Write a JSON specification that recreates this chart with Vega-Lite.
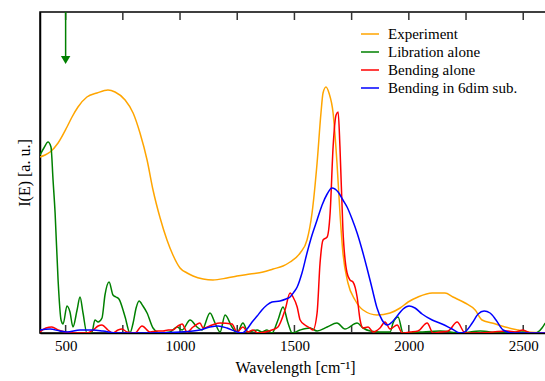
{
  "$schema": "https://vega.github.io/schema/vega-lite/v6.json",
  "width": 510,
  "height": 321,
  "autosize": {"type": "none"},
  "padding": {"left": 40, "top": 12, "right": 0, "bottom": 48},
  "config": {
    "view": {"stroke": "black", "strokeWidth": 1.5},
    "font": "Liberation Serif",
    "axis": {"labelFont": "Liberation Serif", "titleFont": "Liberation Serif", "titleFontWeight": "normal", "domainColor": "black", "domainWidth": 1.5, "grid": false}
  },
  "datasets": {
    "spectra": [
      {"s":"Experiment","w":388,"i":176},{"s":"Experiment","w":410,"i":178},{"s":"Experiment","w":432,"i":181},{"s":"Experiment","w":467,"i":190},{"s":"Experiment","w":506,"i":206},{"s":"Experiment","w":528,"i":216},{"s":"Experiment","w":554,"i":226},{"s":"Experiment","w":593,"i":236},{"s":"Experiment","w":637,"i":240},{"s":"Experiment","w":685,"i":243},{"s":"Experiment","w":716,"i":241},{"s":"Experiment","w":760,"i":233},{"s":"Experiment","w":795,"i":220},{"s":"Experiment","w":825,"i":200},{"s":"Experiment","w":856,"i":173},{"s":"Experiment","w":882,"i":143},{"s":"Experiment","w":913,"i":115},{"s":"Experiment","w":943,"i":93},{"s":"Experiment","w":969,"i":78},{"s":"Experiment","w":1000,"i":65},{"s":"Experiment","w":1031,"i":60},{"s":"Experiment","w":1057,"i":57},{"s":"Experiment","w":1101,"i":54},{"s":"Experiment","w":1144,"i":53},{"s":"Experiment","w":1205,"i":55},{"s":"Experiment","w":1249,"i":57},{"s":"Experiment","w":1306,"i":59},{"s":"Experiment","w":1363,"i":61},{"s":"Experiment","w":1407,"i":64},{"s":"Experiment","w":1450,"i":67},{"s":"Experiment","w":1481,"i":71},{"s":"Experiment","w":1525,"i":80},{"s":"Experiment","w":1555,"i":93},{"s":"Experiment","w":1577,"i":120},{"s":"Experiment","w":1599,"i":170},{"s":"Experiment","w":1616,"i":220},{"s":"Experiment","w":1625,"i":240},{"s":"Experiment","w":1638,"i":246},{"s":"Experiment","w":1651,"i":240},{"s":"Experiment","w":1669,"i":220},{"s":"Experiment","w":1686,"i":170},{"s":"Experiment","w":1699,"i":120},{"s":"Experiment","w":1712,"i":80},{"s":"Experiment","w":1734,"i":50},{"s":"Experiment","w":1765,"i":33},{"s":"Experiment","w":1800,"i":23},{"s":"Experiment","w":1861,"i":18},{"s":"Experiment","w":1918,"i":20},{"s":"Experiment","w":1962,"i":25},{"s":"Experiment","w":1997,"i":31},{"s":"Experiment","w":2040,"i":36},{"s":"Experiment","w":2102,"i":40},{"s":"Experiment","w":2158,"i":40},{"s":"Experiment","w":2193,"i":36},{"s":"Experiment","w":2246,"i":30},{"s":"Experiment","w":2290,"i":23},{"s":"Experiment","w":2320,"i":13},{"s":"Experiment","w":2364,"i":10},{"s":"Experiment","w":2421,"i":6},{"s":"Experiment","w":2478,"i":3},{"s":"Experiment","w":2521,"i":1},{"s":"Experiment","w":2596,"i":0},
      {"s":"Libration alone","w":388,"i":178},{"s":"Libration alone","w":405,"i":185},{"s":"Libration alone","w":423,"i":191},{"s":"Libration alone","w":436,"i":186},{"s":"Libration alone","w":445,"i":153},{"s":"Libration alone","w":454,"i":120},{"s":"Libration alone","w":467,"i":53},{"s":"Libration alone","w":480,"i":13},{"s":"Libration alone","w":489,"i":9},{"s":"Libration alone","w":506,"i":27},{"s":"Libration alone","w":519,"i":21},{"s":"Libration alone","w":532,"i":6},{"s":"Libration alone","w":550,"i":23},{"s":"Libration alone","w":563,"i":36},{"s":"Libration alone","w":576,"i":20},{"s":"Libration alone","w":593,"i":0},{"s":"Libration alone","w":615,"i":1},{"s":"Libration alone","w":628,"i":13},{"s":"Libration alone","w":642,"i":11},{"s":"Libration alone","w":659,"i":15},{"s":"Libration alone","w":672,"i":38},{"s":"Libration alone","w":690,"i":51},{"s":"Libration alone","w":707,"i":38},{"s":"Libration alone","w":720,"i":36},{"s":"Libration alone","w":733,"i":34},{"s":"Libration alone","w":760,"i":16},{"s":"Libration alone","w":781,"i":0},{"s":"Libration alone","w":795,"i":10},{"s":"Libration alone","w":808,"i":25},{"s":"Libration alone","w":821,"i":32},{"s":"Libration alone","w":838,"i":27},{"s":"Libration alone","w":856,"i":20},{"s":"Libration alone","w":882,"i":5},{"s":"Libration alone","w":913,"i":0},{"s":"Libration alone","w":956,"i":1},{"s":"Libration alone","w":987,"i":6},{"s":"Libration alone","w":1009,"i":3},{"s":"Libration alone","w":1044,"i":13},{"s":"Libration alone","w":1074,"i":6},{"s":"Libration alone","w":1096,"i":3},{"s":"Libration alone","w":1131,"i":20},{"s":"Libration alone","w":1153,"i":10},{"s":"Libration alone","w":1175,"i":1},{"s":"Libration alone","w":1197,"i":18},{"s":"Libration alone","w":1227,"i":6},{"s":"Libration alone","w":1249,"i":0},{"s":"Libration alone","w":1275,"i":10},{"s":"Libration alone","w":1297,"i":1},{"s":"Libration alone","w":1337,"i":3},{"s":"Libration alone","w":1358,"i":1},{"s":"Libration alone","w":1380,"i":3},{"s":"Libration alone","w":1402,"i":0},{"s":"Libration alone","w":1428,"i":13},{"s":"Libration alone","w":1450,"i":26},{"s":"Libration alone","w":1472,"i":10},{"s":"Libration alone","w":1490,"i":0},{"s":"Libration alone","w":1525,"i":3},{"s":"Libration alone","w":1568,"i":5},{"s":"Libration alone","w":1599,"i":2},{"s":"Libration alone","w":1643,"i":6},{"s":"Libration alone","w":1686,"i":10},{"s":"Libration alone","w":1721,"i":4},{"s":"Libration alone","w":1774,"i":10},{"s":"Libration alone","w":1800,"i":5},{"s":"Libration alone","w":1831,"i":2},{"s":"Libration alone","w":1874,"i":1},{"s":"Libration alone","w":1918,"i":1},{"s":"Libration alone","w":1931,"i":10},{"s":"Libration alone","w":1953,"i":16},{"s":"Libration alone","w":1975,"i":0},{"s":"Libration alone","w":2049,"i":1},{"s":"Libration alone","w":2137,"i":2},{"s":"Libration alone","w":2224,"i":0},{"s":"Libration alone","w":2312,"i":2},{"s":"Libration alone","w":2399,"i":0},{"s":"Libration alone","w":2486,"i":1},{"s":"Libration alone","w":2552,"i":0},{"s":"Libration alone","w":2582,"i":5},{"s":"Libration alone","w":2596,"i":10},
      {"s":"Bending alone","w":388,"i":1},{"s":"Bending alone","w":414,"i":5},{"s":"Bending alone","w":440,"i":6},{"s":"Bending alone","w":467,"i":3},{"s":"Bending alone","w":497,"i":1},{"s":"Bending alone","w":532,"i":0},{"s":"Bending alone","w":593,"i":0},{"s":"Bending alone","w":620,"i":3},{"s":"Bending alone","w":642,"i":7},{"s":"Bending alone","w":659,"i":8},{"s":"Bending alone","w":685,"i":3},{"s":"Bending alone","w":707,"i":0},{"s":"Bending alone","w":729,"i":3},{"s":"Bending alone","w":746,"i":4},{"s":"Bending alone","w":768,"i":1},{"s":"Bending alone","w":803,"i":0},{"s":"Bending alone","w":834,"i":7},{"s":"Bending alone","w":869,"i":1},{"s":"Bending alone","w":899,"i":2},{"s":"Bending alone","w":926,"i":2},{"s":"Bending alone","w":948,"i":3},{"s":"Bending alone","w":969,"i":3},{"s":"Bending alone","w":991,"i":7},{"s":"Bending alone","w":1009,"i":9},{"s":"Bending alone","w":1031,"i":1},{"s":"Bending alone","w":1057,"i":6},{"s":"Bending alone","w":1087,"i":10},{"s":"Bending alone","w":1101,"i":5},{"s":"Bending alone","w":1140,"i":8},{"s":"Bending alone","w":1175,"i":10},{"s":"Bending alone","w":1227,"i":9},{"s":"Bending alone","w":1249,"i":1},{"s":"Bending alone","w":1275,"i":6},{"s":"Bending alone","w":1297,"i":1},{"s":"Bending alone","w":1319,"i":3},{"s":"Bending alone","w":1341,"i":0},{"s":"Bending alone","w":1372,"i":1},{"s":"Bending alone","w":1402,"i":3},{"s":"Bending alone","w":1428,"i":6},{"s":"Bending alone","w":1459,"i":23},{"s":"Bending alone","w":1481,"i":40},{"s":"Bending alone","w":1494,"i":36},{"s":"Bending alone","w":1512,"i":26},{"s":"Bending alone","w":1525,"i":13},{"s":"Bending alone","w":1546,"i":8},{"s":"Bending alone","w":1568,"i":5},{"s":"Bending alone","w":1581,"i":3},{"s":"Bending alone","w":1599,"i":20},{"s":"Bending alone","w":1612,"i":70},{"s":"Bending alone","w":1625,"i":93},{"s":"Bending alone","w":1643,"i":96},{"s":"Bending alone","w":1656,"i":120},{"s":"Bending alone","w":1669,"i":186},{"s":"Bending alone","w":1682,"i":218},{"s":"Bending alone","w":1691,"i":221},{"s":"Bending alone","w":1699,"i":186},{"s":"Bending alone","w":1712,"i":103},{"s":"Bending alone","w":1730,"i":60},{"s":"Bending alone","w":1743,"i":53},{"s":"Bending alone","w":1756,"i":51},{"s":"Bending alone","w":1774,"i":36},{"s":"Bending alone","w":1787,"i":13},{"s":"Bending alone","w":1800,"i":5},{"s":"Bending alone","w":1822,"i":6},{"s":"Bending alone","w":1844,"i":1},{"s":"Bending alone","w":1874,"i":5},{"s":"Bending alone","w":1896,"i":11},{"s":"Bending alone","w":1918,"i":4},{"s":"Bending alone","w":1949,"i":8},{"s":"Bending alone","w":1971,"i":0},{"s":"Bending alone","w":2005,"i":1},{"s":"Bending alone","w":2040,"i":2},{"s":"Bending alone","w":2080,"i":10},{"s":"Bending alone","w":2106,"i":0},{"s":"Bending alone","w":2137,"i":1},{"s":"Bending alone","w":2172,"i":2},{"s":"Bending alone","w":2211,"i":11},{"s":"Bending alone","w":2246,"i":0},{"s":"Bending alone","w":2298,"i":0},{"s":"Bending alone","w":2368,"i":1},{"s":"Bending alone","w":2430,"i":2},{"s":"Bending alone","w":2465,"i":1},{"s":"Bending alone","w":2499,"i":3},{"s":"Bending alone","w":2530,"i":0},{"s":"Bending alone","w":2596,"i":0},
      {"s":"Bending in 6dim sub.","w":388,"i":3},{"s":"Bending in 6dim sub.","w":432,"i":4},{"s":"Bending in 6dim sub.","w":475,"i":2},{"s":"Bending in 6dim sub.","w":506,"i":1},{"s":"Bending in 6dim sub.","w":563,"i":3},{"s":"Bending in 6dim sub.","w":620,"i":3},{"s":"Bending in 6dim sub.","w":663,"i":2},{"s":"Bending in 6dim sub.","w":725,"i":0},{"s":"Bending in 6dim sub.","w":869,"i":0},{"s":"Bending in 6dim sub.","w":1000,"i":1},{"s":"Bending in 6dim sub.","w":1087,"i":3},{"s":"Bending in 6dim sub.","w":1131,"i":6},{"s":"Bending in 6dim sub.","w":1166,"i":7},{"s":"Bending in 6dim sub.","w":1205,"i":5},{"s":"Bending in 6dim sub.","w":1249,"i":1},{"s":"Bending in 6dim sub.","w":1271,"i":0},{"s":"Bending in 6dim sub.","w":1293,"i":4},{"s":"Bending in 6dim sub.","w":1315,"i":11},{"s":"Bending in 6dim sub.","w":1337,"i":17},{"s":"Bending in 6dim sub.","w":1358,"i":23},{"s":"Bending in 6dim sub.","w":1380,"i":28},{"s":"Bending in 6dim sub.","w":1402,"i":31},{"s":"Bending in 6dim sub.","w":1437,"i":32},{"s":"Bending in 6dim sub.","w":1463,"i":34},{"s":"Bending in 6dim sub.","w":1481,"i":36},{"s":"Bending in 6dim sub.","w":1498,"i":41},{"s":"Bending in 6dim sub.","w":1512,"i":46},{"s":"Bending in 6dim sub.","w":1533,"i":60},{"s":"Bending in 6dim sub.","w":1555,"i":80},{"s":"Bending in 6dim sub.","w":1577,"i":98},{"s":"Bending in 6dim sub.","w":1599,"i":113},{"s":"Bending in 6dim sub.","w":1621,"i":128},{"s":"Bending in 6dim sub.","w":1643,"i":139},{"s":"Bending in 6dim sub.","w":1664,"i":145},{"s":"Bending in 6dim sub.","w":1691,"i":141},{"s":"Bending in 6dim sub.","w":1712,"i":133},{"s":"Bending in 6dim sub.","w":1730,"i":126},{"s":"Bending in 6dim sub.","w":1752,"i":114},{"s":"Bending in 6dim sub.","w":1774,"i":100},{"s":"Bending in 6dim sub.","w":1796,"i":83},{"s":"Bending in 6dim sub.","w":1817,"i":65},{"s":"Bending in 6dim sub.","w":1839,"i":45},{"s":"Bending in 6dim sub.","w":1861,"i":25},{"s":"Bending in 6dim sub.","w":1883,"i":13},{"s":"Bending in 6dim sub.","w":1905,"i":8},{"s":"Bending in 6dim sub.","w":1927,"i":11},{"s":"Bending in 6dim sub.","w":1949,"i":17},{"s":"Bending in 6dim sub.","w":1975,"i":24},{"s":"Bending in 6dim sub.","w":2001,"i":27},{"s":"Bending in 6dim sub.","w":2027,"i":25},{"s":"Bending in 6dim sub.","w":2058,"i":19},{"s":"Bending in 6dim sub.","w":2102,"i":13},{"s":"Bending in 6dim sub.","w":2145,"i":9},{"s":"Bending in 6dim sub.","w":2189,"i":4},{"s":"Bending in 6dim sub.","w":2224,"i":0},{"s":"Bending in 6dim sub.","w":2250,"i":2},{"s":"Bending in 6dim sub.","w":2277,"i":10},{"s":"Bending in 6dim sub.","w":2303,"i":19},{"s":"Bending in 6dim sub.","w":2329,"i":22},{"s":"Bending in 6dim sub.","w":2355,"i":20},{"s":"Bending in 6dim sub.","w":2381,"i":13},{"s":"Bending in 6dim sub.","w":2412,"i":3},{"s":"Bending in 6dim sub.","w":2456,"i":0},{"s":"Bending in 6dim sub.","w":2596,"i":0}
    ],
    "arrow": [{"w": 500, "top": 321, "bot": 276, "head": 273}],
    "tickpos": [{"t": 500}, {"t": 750}, {"t": 1000}, {"t": 1250}, {"t": 1500}, {"t": 1750}, {"t": 2000}, {"t": 2250}, {"t": 2500}]
  },
  "layer": [
    {
      "data": {"name": "tickpos"},
      "mark": {"type": "rule", "color": "#333333", "strokeWidth": 1.5, "opacity": 1},
      "encoding": {
        "x": {"field": "t", "type": "quantitative"},
        "y": {"datum": 0},
        "y2": {"datum": 8}
      }
    },
    {
      "data": {"name": "tickpos"},
      "mark": {"type": "rule", "color": "#333333", "strokeWidth": 1.5, "opacity": 1},
      "encoding": {
        "x": {"field": "t", "type": "quantitative"},
        "y": {"datum": 313},
        "y2": {"datum": 321}
      }
    },
    {
      "data": {"name": "spectra"},
      "mark": {"type": "line", "interpolate": "monotone", "strokeWidth": 1.5, "clip": true},
      "encoding": {
        "x": {"field": "w", "type": "quantitative", "scale": {"domain": [388, 2617], "nice": false, "zero": false},
          "axis": {"orient": "bottom", "title": "Wavelength [cm⁻¹]", "values": [500,1000,1500,2000,2500], "format": "d", "ticks": false, "labelPadding": 5, "labelFontSize": 15, "labelColor": "black", "titleFontSize": 16, "titleColor": "black", "titlePadding": 6}},
        "y": {"field": "i", "type": "quantitative", "scale": {"domain": [0, 321], "nice": false},
          "axis": {"title": "I(E) [a. u.]", "labels": false, "ticks": false, "titleFontSize": 16, "titleColor": "black", "titlePadding": 8}},
        "color": {"field": "s", "type": "nominal", "sort": ["Experiment","Libration alone","Bending alone","Bending in 6dim sub."],
          "scale": {"domain": ["Experiment","Libration alone","Bending alone","Bending in 6dim sub."], "range": ["#FFA500","#008000","#FF0000","#0000FF"]},
          "legend": {"title": null, "orient": "none", "legendX": 320, "legendY": 12, "symbolType": "stroke", "symbolSize": 324, "symbolStrokeWidth": 1.5, "labelFontSize": 15, "labelFont": "Liberation Serif", "labelColor": "black", "rowPadding": 0, "labelOffset": 8}}
      }
    },
    {
      "data": {"name": "arrow"},
      "mark": {"type": "rule", "color": "#008000", "strokeWidth": 1.5},
      "encoding": {
        "x": {"field": "w", "type": "quantitative"},
        "y": {"field": "top", "type": "quantitative"},
        "y2": {"field": "bot"}
      }
    },
    {
      "data": {"name": "arrow"},
      "mark": {"type": "point", "shape": "triangle-down", "filled": true, "color": "#008000", "size": 90, "opacity": 1},
      "encoding": {
        "x": {"field": "w", "type": "quantitative"},
        "y": {"field": "head", "type": "quantitative"}
      }
    }
  ]
}
